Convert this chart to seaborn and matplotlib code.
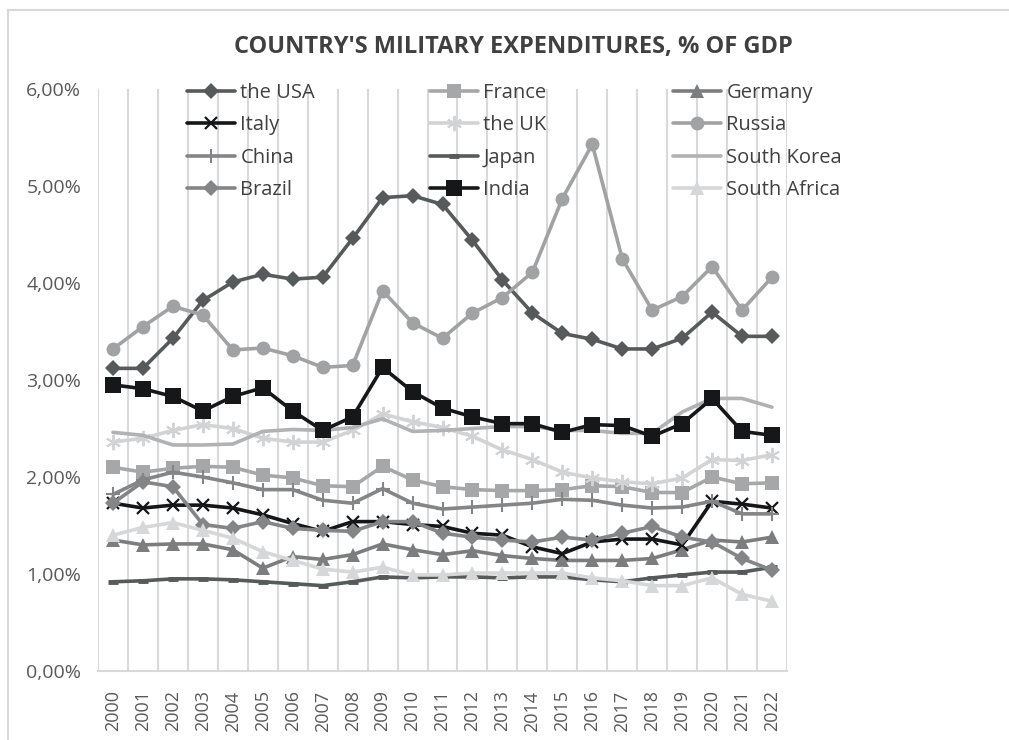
import numpy as np
import pandas as pd
import matplotlib
matplotlib.use("Agg")
import matplotlib.pyplot as plt
import seaborn as sns
from matplotlib.patches import Rectangle
from matplotlib.lines import Line2D

years = list(range(2000, 2023))

usa = [3.12, 3.12, 3.43, 3.82, 4.01, 4.09, 4.04, 4.06, 4.46, 4.88, 4.90, 4.81, 4.44, 4.03, 3.69, 3.48, 3.42, 3.32, 3.32, 3.43, 3.70, 3.45, 3.45]
france = [2.10, 2.05, 2.09, 2.11, 2.10, 2.02, 1.99, 1.91, 1.90, 2.11, 1.97, 1.90, 1.87, 1.86, 1.86, 1.87, 1.91, 1.90, 1.84, 1.84, 2.00, 1.93, 1.94]
germany = [1.35, 1.30, 1.31, 1.31, 1.25, 1.06, 1.18, 1.15, 1.20, 1.31, 1.25, 1.20, 1.24, 1.19, 1.16, 1.14, 1.14, 1.14, 1.16, 1.25, 1.35, 1.33, 1.38]
italy = [1.73, 1.68, 1.71, 1.71, 1.68, 1.61, 1.52, 1.44, 1.54, 1.54, 1.51, 1.49, 1.42, 1.40, 1.28, 1.21, 1.33, 1.36, 1.36, 1.30, 1.75, 1.72, 1.68]
uk = [2.36, 2.40, 2.48, 2.54, 2.50, 2.40, 2.36, 2.36, 2.48, 2.65, 2.57, 2.51, 2.42, 2.28, 2.18, 2.05, 1.99, 1.95, 1.93, 1.99, 2.18, 2.17, 2.23]
russia = [3.32, 3.55, 3.76, 3.67, 3.31, 3.33, 3.25, 3.13, 3.15, 3.92, 3.59, 3.43, 3.69, 3.85, 4.11, 4.87, 5.43, 4.25, 3.72, 3.86, 4.17, 3.72, 4.06]
china = [1.82, 1.97, 2.05, 2.00, 1.94, 1.87, 1.87, 1.76, 1.73, 1.88, 1.73, 1.67, 1.69, 1.71, 1.73, 1.77, 1.76, 1.71, 1.68, 1.69, 1.75, 1.62, 1.62]
japan = [0.92, 0.93, 0.95, 0.95, 0.94, 0.92, 0.90, 0.88, 0.92, 0.97, 0.96, 0.97, 0.97, 0.96, 0.97, 0.97, 0.94, 0.92, 0.96, 0.99, 1.02, 1.02, 1.07]
south_korea = [2.46, 2.43, 2.33, 2.33, 2.34, 2.47, 2.49, 2.48, 2.51, 2.60, 2.47, 2.48, 2.50, 2.52, 2.52, 2.48, 2.48, 2.45, 2.45, 2.67, 2.81, 2.81, 2.72]
brazil = [1.73, 1.95, 1.90, 1.51, 1.47, 1.54, 1.47, 1.45, 1.44, 1.54, 1.54, 1.42, 1.38, 1.35, 1.33, 1.38, 1.35, 1.42, 1.49, 1.38, 1.33, 1.16, 1.04]
india = [2.95, 2.91, 2.83, 2.68, 2.83, 2.92, 2.68, 2.48, 2.62, 3.13, 2.88, 2.71, 2.62, 2.55, 2.55, 2.46, 2.54, 2.53, 2.42, 2.55, 2.81, 2.47, 2.43]
south_africa = [1.40, 1.48, 1.53, 1.45, 1.37, 1.23, 1.14, 1.05, 1.02, 1.07, 0.99, 0.99, 1.01, 1.01, 1.01, 1.01, 0.96, 0.93, 0.88, 0.88, 0.96, 0.79, 0.72]

names = ["the USA", "France", "Germany", "Italy", "the UK", "Russia",
         "China", "Japan", "South Korea", "Brazil", "India", "South Africa"]
series = [usa, france, germany, italy, uk, russia, china, japan, south_korea, brazil, india, south_africa]

styles = {
    "the USA":      dict(color="#565a5b", marker="D", markersize=8, mew=0),
    "France":       dict(color="#a5a7a8", marker="s", markersize=10, mew=0),
    "Germany":      dict(color="#7b7d7e", marker="^", markersize=10, mew=0),
    "Italy":        dict(color="#141618", marker="x", markersize=9, mew=1.6),
    "the UK":       dict(color="#d2d3d4", marker=(6, 2, 0), markersize=11, mew=1.4),
    "Russia":       dict(color="#a0a2a3", marker="o", markersize=10, mew=0),
    "China":        dict(color="#838586", marker="+", markersize=10, mew=1.5),
    "Japan":        dict(color="#565a5b", marker="_", markersize=7, mew=3.5),
    "South Korea":  dict(color="#b0b2b3", marker=None, markersize=0, mew=0),
    "Brazil":       dict(color="#838586", marker="D", markersize=8, mew=0),
    "India":        dict(color="#151719", marker="s", markersize=11, mew=0),
    "South Africa": dict(color="#d6d7d8", marker="^", markersize=10, mew=0),
}

sns.set_theme(style="white")
plt.rcParams["font.family"] = ["Open Sans", "DejaVu Sans"]

fig = plt.figure(figsize=(10.09, 7.40), dpi=100)
ax = fig.add_axes([98 / 1009, 69 / 740, (787 - 98) / 1009, 582 / 740])

xpos = np.arange(len(years))
handles = {}
for name, vals in zip(names, series):
    st = styles[name]
    df = pd.DataFrame({"x": xpos, "y": vals})
    sns.lineplot(data=df, x="x", y="y", ax=ax, color=st["color"], linewidth=2.6,
                 marker=st["marker"], markersize=st["markersize"],
                 markeredgewidth=st["mew"], markeredgecolor=st["color"],
                 markerfacecolor=st["color"], legend=False, zorder=3)
    handles[name] = Line2D([0], [0], color=st["color"], linewidth=2.6,
                           marker=st["marker"], markersize=st["markersize"],
                           markeredgewidth=st["mew"], markeredgecolor=st["color"],
                           markerfacecolor=st["color"])

ax.set_xlim(-0.5, len(years) - 0.5)
ax.set_ylim(0, 6)
ax.set_xlabel("")
ax.set_ylabel("")
ax.set_xticks(xpos)
ax.set_xticklabels([str(y) for y in years], rotation=90, fontsize=13, color="#595959")
ax.set_xticks(np.arange(-0.5, len(years), 1.0), minor=True)
ax.grid(False)
ax.grid(True, which="minor", axis="x", color="#d9d9d9", linewidth=1.5, zorder=0)
yt = np.arange(0, 7)
ax.set_yticks(yt)
ax.set_yticklabels([f"{v:.2f}%".replace(".", ",") for v in yt], fontsize=14, color="#595959")
ax.tick_params(axis="both", which="both", length=0)
ax.tick_params(axis="x", pad=14)
ax.tick_params(axis="y", pad=12)
for s in ["top", "right", "left"]:
    ax.spines[s].set_visible(False)
ax.spines["bottom"].set_color("#d9d9d9")
ax.spines["bottom"].set_linewidth(1.5)

# legend, three columns laid out row-wise as in the reference
cols = [["the USA", "Italy", "China", "Brazil"],
        ["France", "the UK", "Japan", "India"],
        ["Germany", "Russia", "South Korea", "South Africa"]]
xs = [187, 430, 673]
for i, (col, x0) in enumerate(zip(cols, xs)):
    leg = fig.legend([handles[n] for n in col], col, loc="upper left",
                     bbox_to_anchor=(x0 / 1009, 1 - 83 / 740), frameon=False,
                     fontsize=14.5, handlelength=2.4, handletextpad=0.25,
                     borderpad=0, borderaxespad=0, labelspacing=0.62,
                     labelcolor="#404040")

fig.text(513 / 1009, 1 - 47 / 740, "COUNTRY'S MILITARY EXPENDITURES, % OF GDP",
         ha="center", va="center", fontsize=17, fontweight="bold", color="#404040")

fig.patches.append(Rectangle((8 / 1009, -0.1), 1.2, 1 - 10 / 740 + 0.1,
                             transform=fig.transFigure, fill=False,
                             edgecolor="#d9d9d9", linewidth=1.5))

fig.savefig("out.png", dpi=100)
